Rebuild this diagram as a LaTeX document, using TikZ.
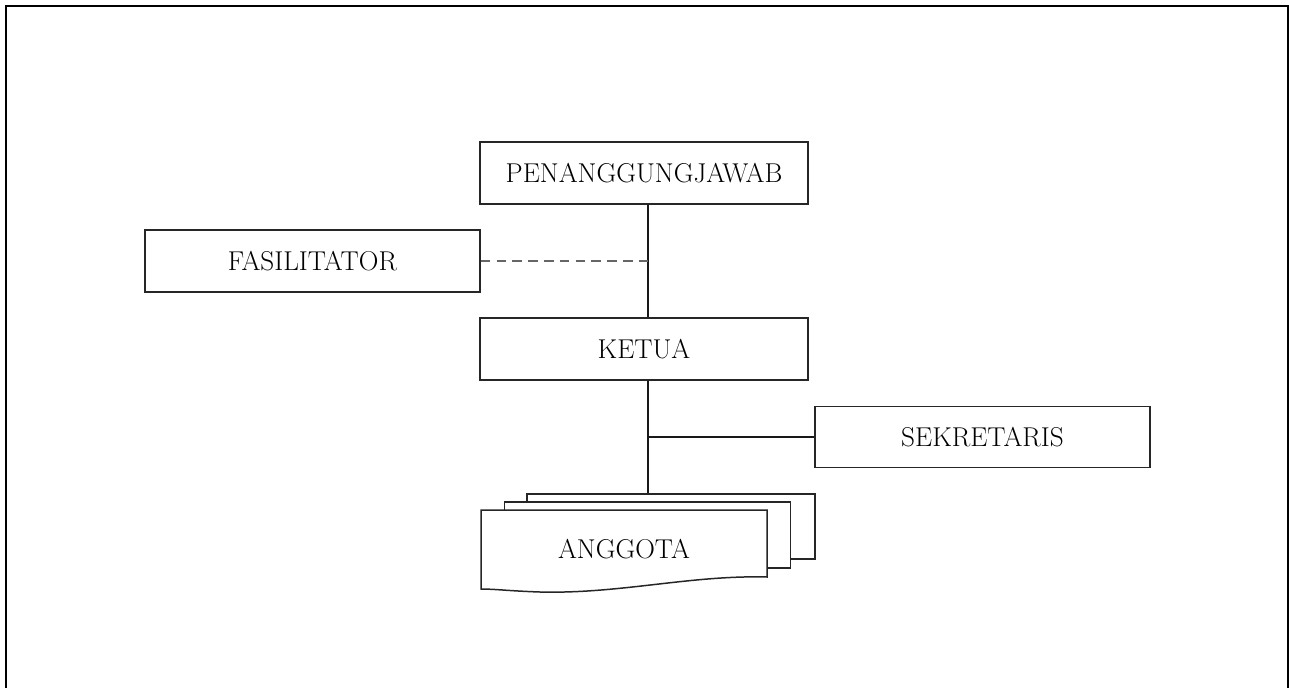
\documentclass[tikz,border=0pt]{standalone}
\usetikzlibrary{calc}
\begin{document}
\begin{tikzpicture}[x=0.02cm,y=-0.02cm,
  lbl/.style={font=\fontsize{15.5}{18}\selectfont},
  box/.style={draw=black!85, line width=0.85pt, fill=white, inner sep=0pt, align=center, lbl},
  conn/.style={draw=black!90, line width=1pt},
  dashconn/.style={draw=black!60, line width=0.9pt, dash pattern=on 5.5pt off 3.5pt},
  frame/.style={draw=black, line width=1.6pt}]
\useasboundingbox (0,0) rectangle (1289,687);
\draw[frame] (6,690) -- (6,6) -- (1288,6) -- (1288,690);

\coordinate (trunk) at (648,0);

\node[box, minimum width=6.56cm, minimum height=1.24cm] (pj) at (644,173) {PENANGGUNGJAWAB};
\node[box, minimum width=6.7cm, minimum height=1.24cm] (fas) at (312.5,261) {FASILITATOR};
\node[box, minimum width=6.56cm, minimum height=1.24cm] (ketua) at (644,349) {KETUA};
\node[box, minimum width=6.7cm, minimum height=1.22cm] (sek) at (982.5,437) {SEKRETARIS};

\node[box, minimum width=5.76cm, minimum height=1.30cm] (back) at (671,526.5) {};
\node[box, minimum width=5.72cm, minimum height=1.32cm] (mid) at (647.5,535) {};
\draw[box] (481,510) -- (767,510) -- (767,577)
  .. controls (690,575) and (620,594) .. (540,592)
  .. controls (510,591) and (495,589) .. (481,589) -- cycle;
\node[lbl] (ang) at (624,549) {ANGGOTA};

\draw[conn] (pj.south -| trunk) -- (ketua.north -| trunk);
\draw[conn] (ketua.south -| trunk) -- (back.north -| trunk);
\draw[dashconn] (fas.east) -- (fas.east -| trunk);
\draw[conn] (sek.west) -- (sek.west -| trunk);
\end{tikzpicture}
\end{document}
